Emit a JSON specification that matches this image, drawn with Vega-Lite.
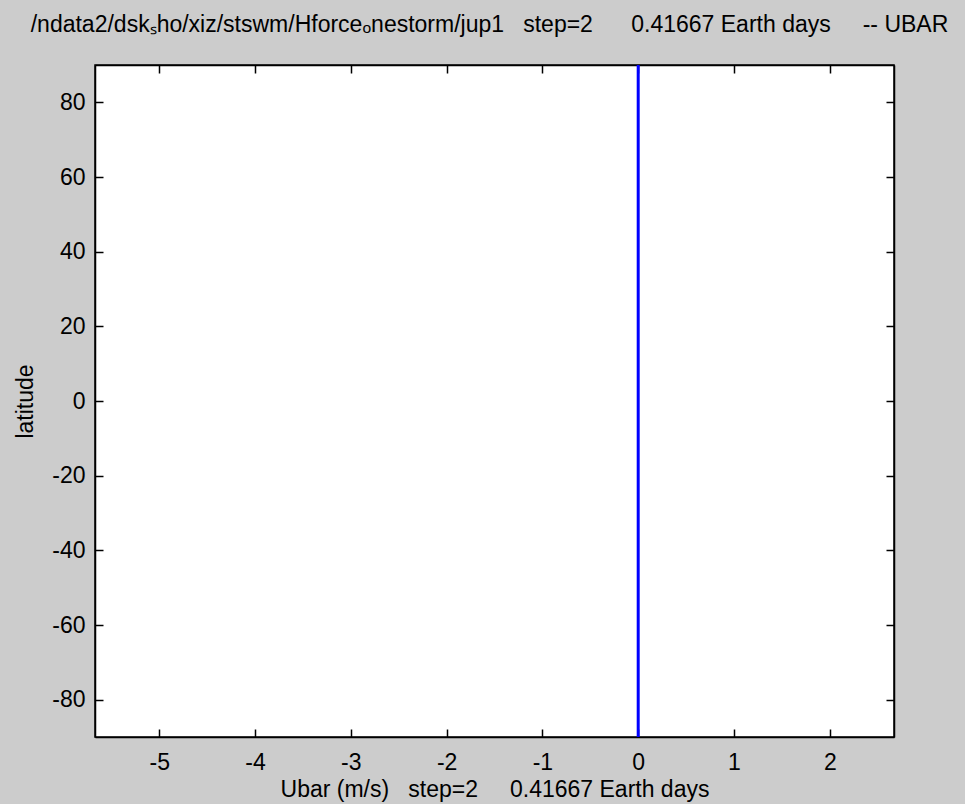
{
  "$schema": "https://vega.github.io/schema/vega-lite/v6.json",
  "width": 799,
  "height": 672,
  "autosize": "none",
  "padding": {"left": 95, "top": 65, "right": 71, "bottom": 67},
  "background": "#cccccc",
  "title": {
    "text": "/ndata2/dskₛho/xiz/stswm/Hforceₒnestorm/jup1\u00a0\u00a0\u00a0step=2\u00a0\u00a0\u00a0\u00a0\u00a0\u00a00.41667 Earth days\u00a0\u00a0\u00a0\u00a0\u00a0-- UBAR",
    "font": "Liberation Sans, sans-serif",
    "fontSize": 23,
    "fontWeight": "normal",
    "color": "#000000",
    "anchor": "middle",
    "frame": "group",
    "baseline": "bottom",
    "offset": 4,
    "dx": -5
  },
  "data": {
    "values": [
      {"ubar": 0, "lat": -90},
      {"ubar": 0, "lat": -60},
      {"ubar": 0, "lat": -30},
      {"ubar": 0, "lat": 0},
      {"ubar": 0, "lat": 30},
      {"ubar": 0, "lat": 60},
      {"ubar": 0, "lat": 90}
    ]
  },
  "config": {
    "view": {"fill": "#ffffff", "stroke": "#000000", "strokeWidth": 1.5},
    "axis": {
      "grid": false,
      "domainColor": "#000000",
      "domainWidth": 1.5,
      "tickColor": "#000000",
      "tickWidth": 1.5,
      "tickSize": -8,
      "labelFont": "Liberation Sans, sans-serif",
      "labelFontSize": 23,
      "labelColor": "#000000",
      "labelExpr": "replace(datum.label, '\u2212', '-')",
      "titleFont": "Liberation Sans, sans-serif",
      "titleFontSize": 23,
      "titleFontWeight": "normal",
      "titleColor": "#000000"
    }
  },
  "resolve": {"axis": {"x": "independent", "y": "independent"}},
  "layer": [
    {
      "mark": {"type": "line", "color": "#0000ff", "strokeWidth": 3, "clip": true},
      "encoding": {
        "x": {
          "field": "ubar",
          "type": "quantitative",
          "scale": {"domain": [-5.67, 2.67], "nice": false, "zero": false},
          "axis": {
            "orient": "bottom",
            "values": [-5, -4, -3, -2, -1, 0, 1, 2],
            "labelPadding": 22,
            "title": "Ubar (m/s)\u00a0\u00a0\u00a0step=2\u00a0\u00a0\u00a0\u00a0\u00a00.41667 Earth days",
            "titlePadding": 4
          }
        },
        "y": {
          "field": "lat",
          "type": "quantitative",
          "scale": {"domain": [-90, 90], "nice": false, "zero": false},
          "axis": {
            "orient": "left",
            "values": [-80, -60, -40, -20, 0, 20, 40, 60, 80],
            "labelPadding": 18,
            "title": "latitude",
            "titlePadding": 14
          }
        },
        "order": {"field": "lat"}
      }
    },
    {
      "mark": {"type": "line", "opacity": 0},
      "encoding": {
        "x": {
          "field": "ubar",
          "type": "quantitative",
          "scale": {"domain": [-5.67, 2.67], "nice": false, "zero": false},
          "axis": {"orient": "top", "values": [-5, -4, -3, -2, -1, 0, 1, 2], "labels": false, "title": null}
        },
        "y": {
          "field": "lat",
          "type": "quantitative",
          "scale": {"domain": [-90, 90], "nice": false, "zero": false},
          "axis": {"orient": "right", "values": [-80, -60, -40, -20, 0, 20, 40, 60, 80], "labels": false, "title": null}
        }
      }
    }
  ]
}
